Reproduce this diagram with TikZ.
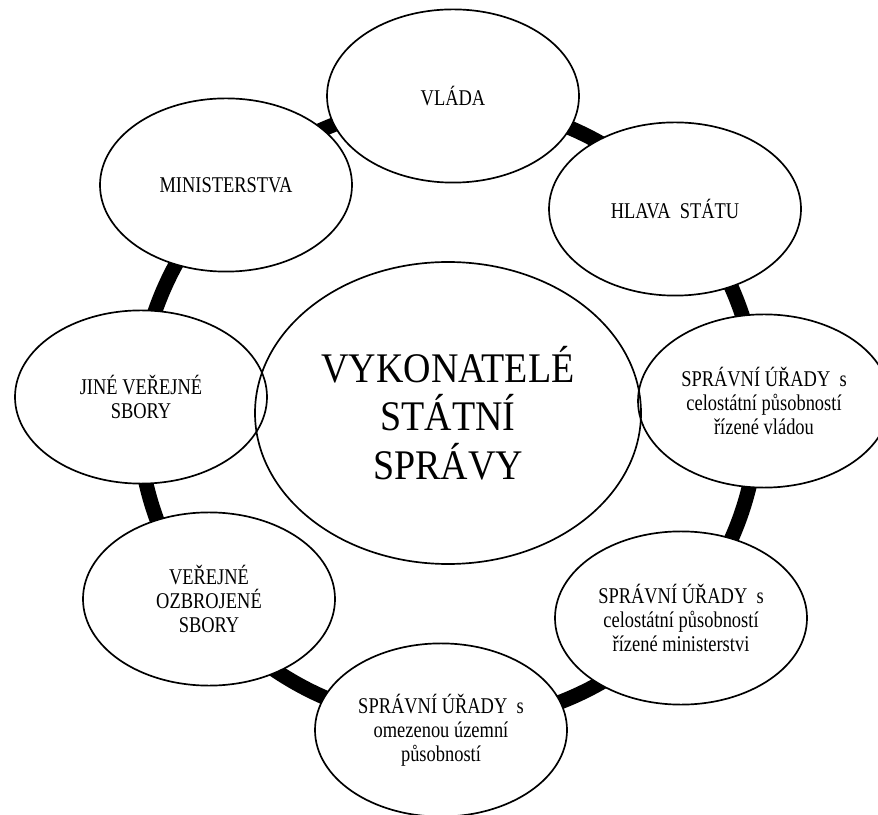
\documentclass[tikz,border=0pt]{standalone}
\usepackage{fontspec}
\setmainfont{Liberation Serif}[FakeStretch=0.82]
\newfontfamily\velke{Liberation Serif}[FakeStretch=0.9]
\usetikzlibrary{shapes.geometric}

\tikzset{
  sbor/.style={ellipse, draw, line width=1.2pt, fill=white, minimum width=6.3cm, minimum height=4.33cm, inner sep=0pt, align=center, font=\fontsize{16}{17}\selectfont},
  hlavni/.style={ellipse, draw, line width=1.2pt, minimum width=9.65cm, minimum height=7.55cm, inner sep=0pt, align=center, font=\velke\fontsize{30}{34.5}\selectfont},
  kruh/.style={line width=0.37cm}
}

\begin{document}
\begin{tikzpicture}
\useasboundingbox (0, 0) rectangle (21.95, 20.35);
\coordinate (stred) at (11.2, 10.025);
\draw [kruh] (stred) circle (7.75);
\node [sbor] (vlada) at (11.325, 17.95) {VLÁDA};
\node [sbor] (hlava) at (16.875, 15.125) {HLAVA\ \ STÁTU};
\node [sbor] (uradvlada) at (19.1, 10.325) {SPRÁVNÍ ÚŘADY\ \ s\\celostátní působností\\řízené vládou};
\node [sbor] (uradmin) at (17.025, 4.9) {SPRÁVNÍ ÚŘADY\ \ s\\celostátní působností\\řízené ministerstvi};
\node [sbor] (uraduzemi) at (11.025, 2.1) {SPRÁVNÍ ÚŘADY\ \ s\\omezenou územní\\působností};
\node [sbor] (ozbrojene) at (5.225, 5.375) {VEŘEJNÉ\\OZBROJENÉ\\SBORY};
\node [sbor] (jine) at (3.525, 10.425) {JINÉ VEŘEJNÉ\\SBORY};
\node [sbor] (ministerstva) at (5.65, 15.725) {MINISTERSTVA};
\node [hlavni] (vykonatele) at (stred) {VYKONATELÉ\\STÁTNÍ\\SPRÁVY};
\end{tikzpicture}
\end{document}
